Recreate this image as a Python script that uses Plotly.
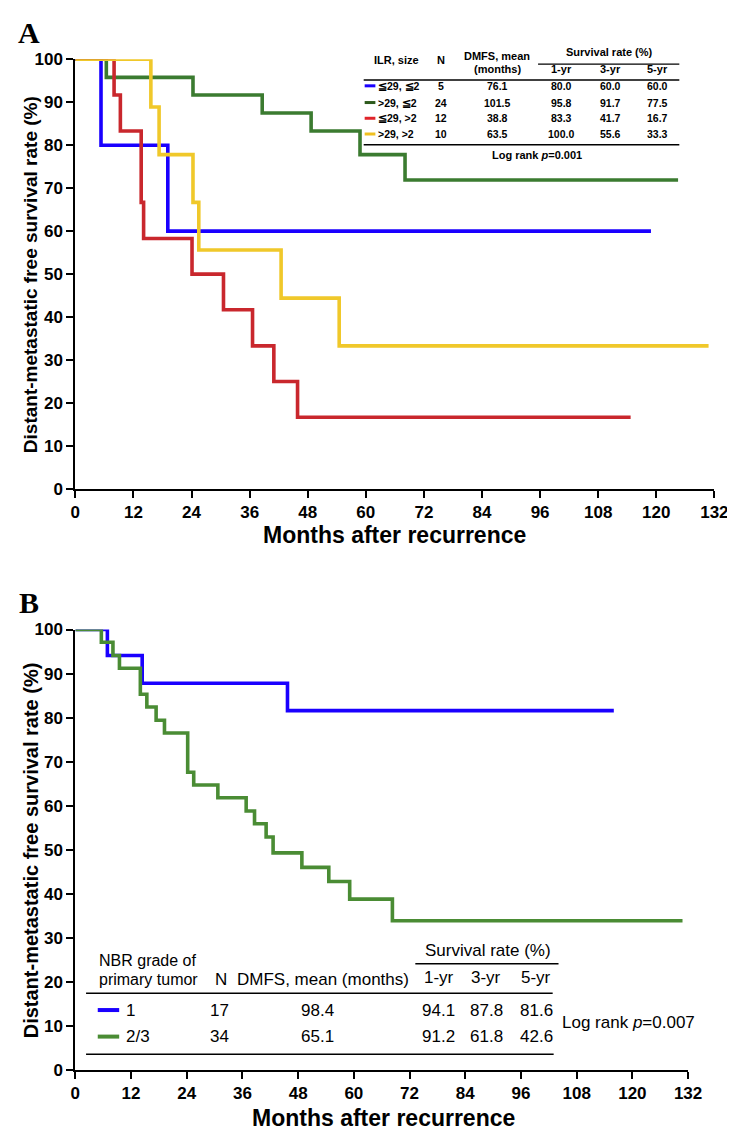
import plotly.graph_objects as go

W, H = 735, 1132

# ---------------- Panel A data (months, DMFS %) ----------------
a_blue_t = [0, 5.3, 19.1, 118.9]
a_blue_s = [100, 80.0, 60.0, 60.0]
a_green_t = [0, 6.4, 24.3, 38.6, 48.7, 58.8, 68.1, 124.5]
a_green_s = [100, 95.8, 91.7, 87.5, 83.3, 77.8, 71.9, 71.9]
a_red_t = [0, 8.0, 9.3, 13.6, 14.1, 24.1, 30.6, 36.6, 41.0, 45.9, 114.7]
a_red_s = [100, 91.7, 83.3, 66.7, 58.3, 50.0, 41.7, 33.3, 25.0, 16.7, 16.7]
a_yellow_t = [0, 15.6, 17.3, 24.3, 25.5, 42.5, 54.5, 130.8]
a_yellow_s = [100, 88.9, 77.8, 66.7, 55.6, 44.4, 33.3, 33.3]

# ---------------- Panel B data ----------------
b_blue_t = [0, 6.9, 14.4, 45.7, 116.0]
b_blue_s = [100, 94.1, 87.8, 81.6, 81.6]
b_green_t = [0, 5.6, 8.1, 9.5, 14.0, 15.4, 17.4, 19.2, 24.2, 25.5, 30.7, 36.8,
             38.6, 41.1, 42.6, 48.8, 54.6, 59.1, 68.3, 130.8]
b_green_s = [100, 97.1, 94.1, 91.2, 85.3, 82.4, 79.4, 76.5, 67.6, 64.7, 61.8, 58.8,
             55.9, 52.9, 49.3, 46.0, 42.8, 38.8, 33.9, 33.9]

x_ticks = [0, 12, 24, 36, 48, 60, 72, 84, 96, 108, 120, 132]
y_ticks = [0, 10, 20, 30, 40, 50, 60, 70, 80, 90, 100]

# Table A
a_rows = ["≦29, ≦2", ">29, ≦2", "≦29, >2", ">29, >2"]
a_n = ["5", "24", "12", "10"]
a_mean = ["76.1", "101.5", "38.8", "63.5"]
a_1yr = ["80.0", "95.8", "83.3", "100.0"]
a_3yr = ["60.0", "91.7", "41.7", "55.6"]
a_5yr = ["60.0", "77.5", "16.7", "33.3"]

# Table B
b_rows = ["1", "2/3"]
b_n = ["17", "34"]
b_mean = ["98.4", "65.1"]
b_1yr = ["94.1", "91.2"]
b_3yr = ["87.8", "61.8"]
b_5yr = ["81.6", "42.6"]

BLUE = "#1a00ff"
GREEN_A = "#3b7b30"
RED = "#c9272d"
YELLOW = "#f0c82a"
GREEN_B = "#4a8c34"

def px(x):
    return x / W

def py(y):
    return 1 - y / H

fig = go.Figure()

LW = 3.6
for t, s, c in [(a_blue_t, a_blue_s, BLUE), (a_green_t, a_green_s, GREEN_A),
                (a_red_t, a_red_s, RED), (a_yellow_t, a_yellow_s, YELLOW)]:
    fig.add_trace(go.Scatter(x=t, y=s, mode="lines", line=dict(color=c, width=LW, shape="hv"),
                             xaxis="x", yaxis="y", cliponaxis=False, showlegend=False, hoverinfo="skip"))
for t, s, c in [(b_blue_t, b_blue_s, BLUE), (b_green_t, b_green_s, GREEN_B)]:
    fig.add_trace(go.Scatter(x=t, y=s, mode="lines", line=dict(color=c, width=LW, shape="hv"),
                             xaxis="x2", yaxis="y2", cliponaxis=False, showlegend=False, hoverinfo="skip"))

BOLD = "Liberation Sans"
axcommon = dict(showgrid=False, zeroline=False, showline=True, linecolor="black", linewidth=2,
                ticks="outside", ticklen=7, tickwidth=2, tickcolor="black")
tf = dict(family=BOLD, size=17, color="black", weight="bold")

fig.update_layout(
    width=W, height=H, margin=dict(l=0, r=0, t=0, b=0),
    paper_bgcolor="white", plot_bgcolor="white",
    xaxis=dict(domain=[px(64), px(720)], range=[0, 132], tickvals=x_ticks, anchor="y",
               tickfont=tf, **axcommon),
    yaxis=dict(domain=[py(480), py(43)], range=[0, 100], tickvals=y_ticks, anchor="x",
               tickfont=tf, **axcommon),
    xaxis2=dict(domain=[px(64), px(693)], range=[0, 132], tickvals=x_ticks, anchor="y2",
                tickfont=tf, **axcommon),
    yaxis2=dict(domain=[py(1071), py(623)], range=[0, 100], tickvals=y_ticks, anchor="x2",
                tickfont=tf, **axcommon),
)

ann = []
shapes = []

def text(x, y, s, size, bold=False, xanchor="center", family=BOLD, angle=0):
    f = dict(family=family, size=size, color="black")
    if bold:
        f["weight"] = "bold"
    ann.append(dict(x=px(x), y=py(y), xref="paper", yref="paper", text=s, showarrow=False,
                    xanchor=xanchor, yanchor="middle", font=f, textangle=angle))

def hline(x0, x1, y, width=1.5, color="black"):
    shapes.append(dict(type="line", xref="paper", yref="paper", x0=px(x0), x1=px(x1),
                       y0=py(y), y1=py(y), line=dict(color=color, width=width)))

# Panel letters
text(16, 16, "A", 30, bold=True, family="Liberation Serif")
text(16, 596, "B", 30, bold=True, family="Liberation Serif")

# Axis titles
text(18, 262, "Distant-metastatic free survival rate (%)", 19, bold=True, angle=-90)
text(18, 848, "Distant-metastatic free survival rate (%)", 20, bold=True, angle=-90)
text(392, 527, "Months after recurrence", 23, bold=True)
text(380, 1120, "Months after recurrence", 23, bold=True)

# ---- Table A ----
TS = 10.5
text(394, 44, "ILR, size", 11, bold=True)
text(439, 44, "N", 11, bold=True)
text(497, 40, "DMFS, mean", 11, bold=True)
text(497, 53, "(months)", 11, bold=True)
text(612, 36, "Survival rate (%)", 11, bold=True)
hline(539, 684, 48, 1.2)
text(563, 53, "1-yr", 11, bold=True)
text(613, 53, "3-yr", 11, bold=True)
text(662, 53, "5-yr", 11, bold=True)
hline(360, 684, 64, 1.5)
a_row_y = [70, 87, 103, 119]
a_sw = [BLUE, "#2d5a1c", "#e0242a", "#f0c020"]
for i, yy in enumerate(a_row_y):
    shapes.append(dict(type="line", xref="paper", yref="paper", x0=px(361), x1=px(372),
                       y0=py(yy), y1=py(yy), line=dict(color=a_sw[i], width=3)))
    text(373, yy, a_rows[i], TS, bold=True, xanchor="left")
    text(439, yy, a_n[i], TS, bold=True)
    text(497, yy, a_mean[i], TS, bold=True)
    text(563, yy, a_1yr[i], TS, bold=True)
    text(613, yy, a_3yr[i], TS, bold=True)
    text(662, yy, a_5yr[i], TS, bold=True)
hline(360, 684, 130, 1.5)
text(538, 140, "Log rank <i>p</i>=0.001", 11, bold=True)

# ---- Table B ----
NF = "Liberation Sans"
BS = 17
text(86, 960, "NBR grade of", 16, xanchor="left", family=NF)
text(86, 979, "primary tumor", 16, xanchor="left", family=NF)
text(214, 979, "N", BS, family=NF)
text(318, 979, "DMFS, mean (months)", BS, family=NF)
text(488, 949, "Survival rate (%)", BS, family=NF)
hline(413, 560, 963, 1.5)
text(437, 977, "1-yr", BS, family=NF)
text(486, 977, "3-yr", BS, family=NF)
text(537, 977, "5-yr", BS, family=NF)
hline(75, 554, 993, 1.5)
b_row_y = [1010, 1037]
b_sw = [BLUE, GREEN_B]
for i, yy in enumerate(b_row_y):
    shapes.append(dict(type="line", xref="paper", yref="paper", x0=px(87), x1=px(109),
                       y0=py(yy), y1=py(yy), line=dict(color=b_sw[i], width=4)))
    text(114, yy, b_rows[i], BS, xanchor="left", family=NF)
    text(212, yy, b_n[i], BS, family=NF)
    text(313, yy, b_mean[i], BS, family=NF)
    text(437, yy, b_1yr[i], BS, family=NF)
    text(486, yy, b_3yr[i], BS, family=NF)
    text(537, yy, b_5yr[i], BS, family=NF)
hline(75, 555, 1055, 1.5)
text(562, 1023, "Log rank <i>p</i>=0.007", BS, xanchor="left", family=NF)

fig.update_layout(annotations=ann, shapes=shapes)
fig.write_html("out.html")
